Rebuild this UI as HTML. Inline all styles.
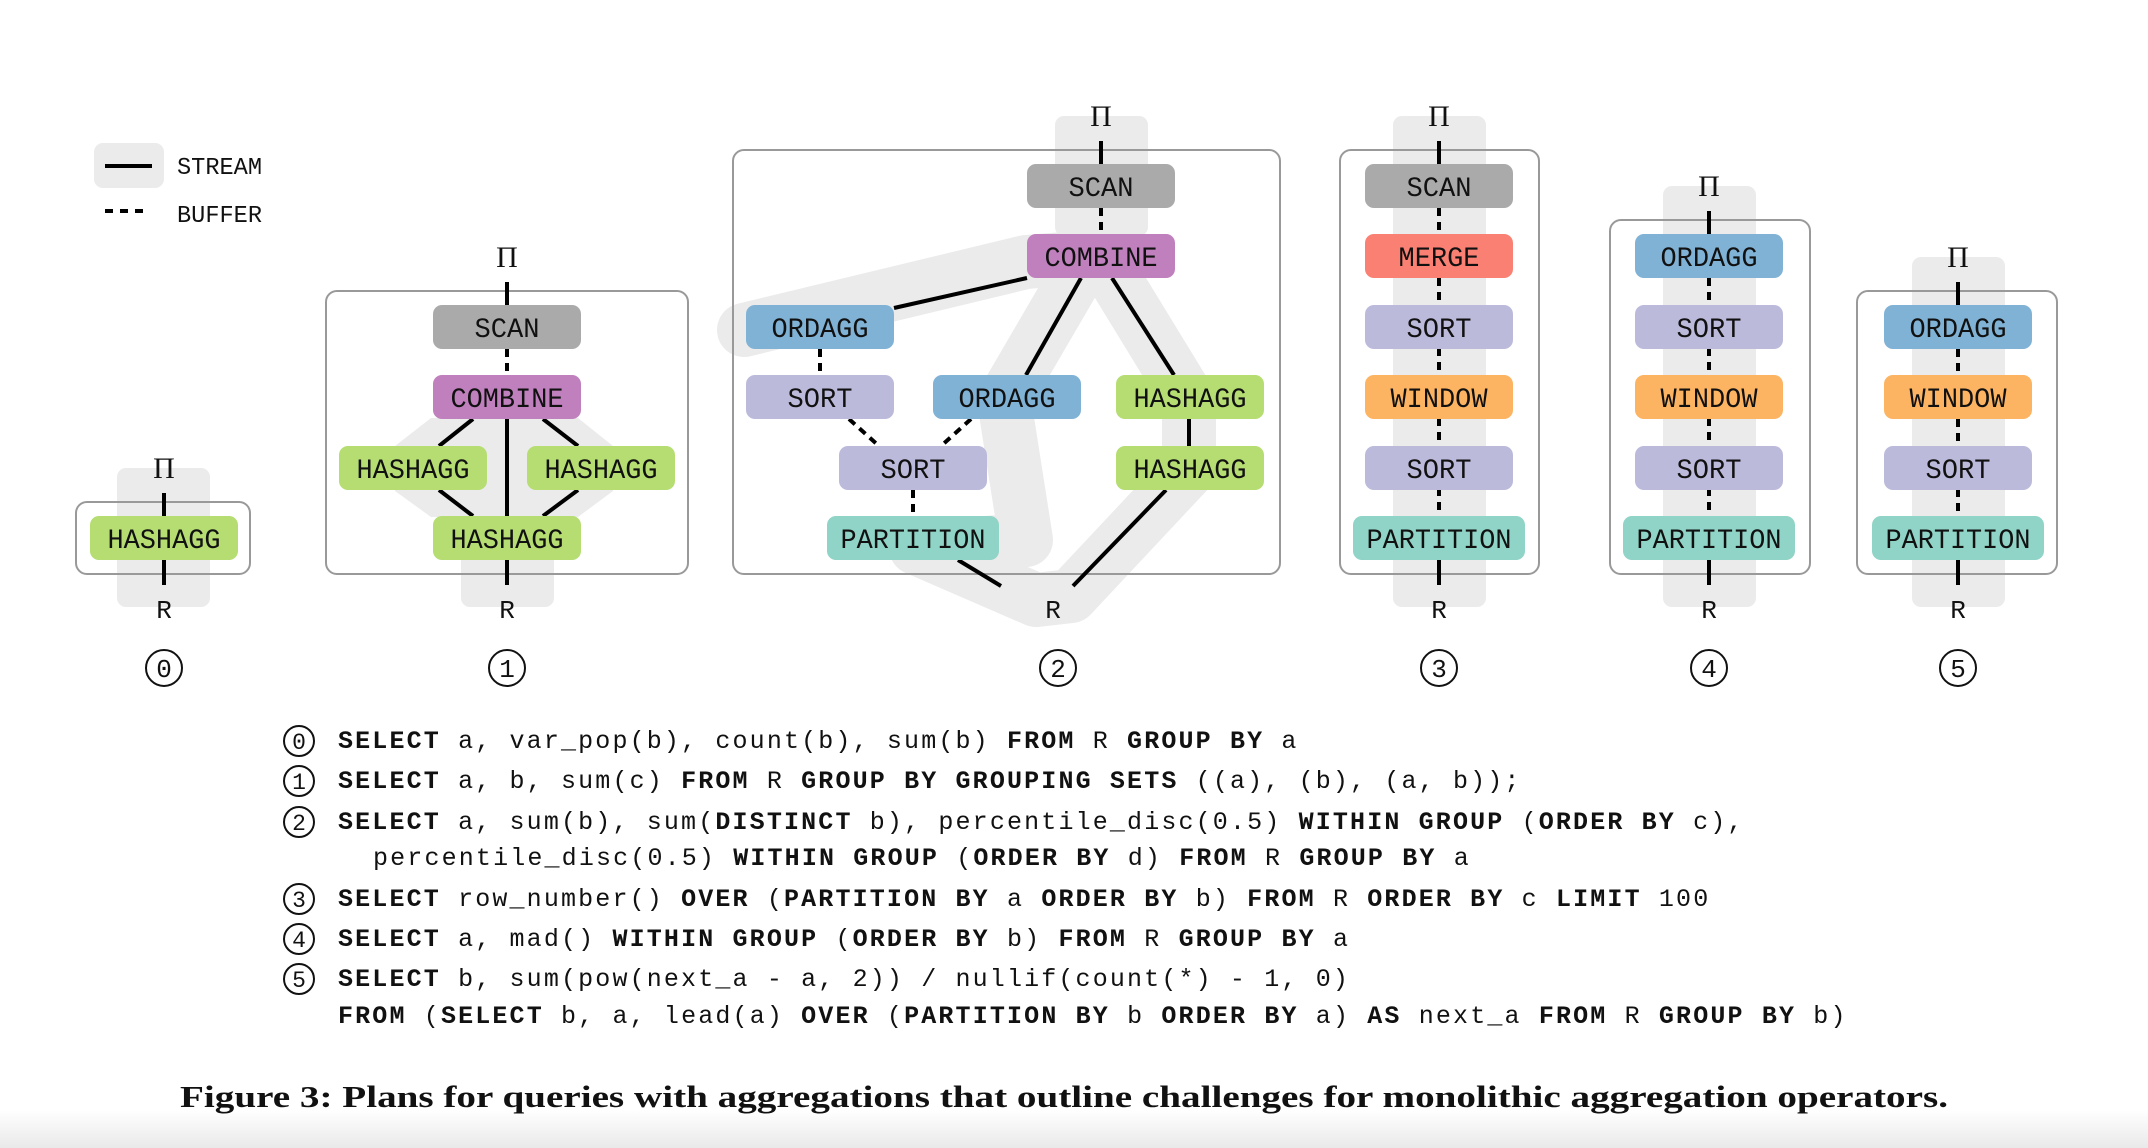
<!DOCTYPE html>
<html><head><meta charset="utf-8"><style>
html,body{margin:0;padding:0;background:#fff;}
body{width:2148px;height:1148px;overflow:hidden;position:relative;}
.sql{position:absolute;left:338px;font-family:"Liberation Mono",monospace;font-size:25px;letter-spacing:2.15px;white-space:pre;color:#111;line-height:30px;}
.sql b{font-weight:bold;}
svg .bx{fill:none;stroke:#999;stroke-width:2}
svg .e{stroke:#000;stroke-width:4;fill:none}
svg .d{stroke:#000;stroke-width:4;fill:none;stroke-dasharray:8,6}
svg .bg{fill:#ebebeb}
svg .t{font-family:"Liberation Mono",monospace;font-size:28px;text-anchor:middle;fill:#111}
svg .r{font-family:"Liberation Mono",monospace;font-size:26px;text-anchor:middle;fill:#111}
svg .pi{font-family:"Liberation Serif",serif;font-size:30px;text-anchor:middle;fill:#111}
svg .c{fill:none;stroke:#111;stroke-width:2}
</style></head><body>
<svg width="2148" height="1148" viewBox="0 0 2148 1148" xmlns="http://www.w3.org/2000/svg" style="position:absolute;left:0;top:0">
<defs>
<linearGradient id="sh" x1="0" y1="0" x2="0" y2="1"><stop offset="0" stop-color="#fff"/><stop offset="1" stop-color="#e9e9e9"/></linearGradient>
</defs>
<rect x="0" y="1110" width="2148" height="38" fill="url(#sh)"/>
<!-- legend -->
<rect class="bg" x="94" y="143" width="70" height="45" rx="9"/>
<line class="e" x1="105" y1="166" x2="152" y2="166"/>
<line class="d" x1="105" y1="211" x2="147" y2="211" style="stroke-dasharray:8,7"/>
<text class="t" x="177" y="174" style="text-anchor:start;font-size:24px" textLength="85" lengthAdjust="spacingAndGlyphs">STREAM</text>
<text class="t" x="177" y="222" style="text-anchor:start;font-size:24px" textLength="85" lengthAdjust="spacingAndGlyphs">BUFFER</text>

<!-- d0 -->
<g>
<rect class="bg" x="117" y="468" width="93" height="139" rx="9"/>
<rect class="bx" x="76" y="502" width="174" height="72" rx="11"/>
<line class="e" x1="164" y1="493" x2="164" y2="516"/><line class="e" x1="164" y1="560" x2="164" y2="585"/>
<rect x="90" y="516" width="148" height="44" rx="9" fill="#b5dd72"/><text class="t" x="164" y="548" textLength="113" lengthAdjust="spacingAndGlyphs">HASHAGG</text>
<text class="pi" x="164" y="478">Π</text><text class="r" x="164" y="618">R</text>
<circle class="c" cx="164" cy="668" r="18"/><text class="r" x="164" y="677">0</text>
</g>

<!-- d1 -->
<g transform="translate(-2,0)">
<polygon class="bg" points="433,418 580,418 615,446 615,491 580,517 433,517 397,491 397,446"/>
<rect class="bg" x="463" y="500" width="93" height="107" rx="9"/>
<rect class="bx" x="328" y="291" width="362" height="283" rx="11"/>
<line class="e" x1="509" y1="282" x2="509" y2="305"/>
<line class="d" x1="509" y1="349" x2="509" y2="375"/>
<line class="e" x1="475" y1="419" x2="441" y2="446"/><line class="e" x1="545" y1="419" x2="580" y2="446"/>
<line class="e" x1="509" y1="419" x2="509" y2="516"/>
<line class="e" x1="441" y1="490" x2="475" y2="516"/><line class="e" x1="580" y1="490" x2="545" y2="516"/>
<line class="e" x1="509" y1="560" x2="509" y2="585"/>
<rect x="435" y="305" width="148" height="44" rx="9" fill="#aaaaaa"/><text class="t" x="509" y="337" textLength="65" lengthAdjust="spacingAndGlyphs">SCAN</text>
<rect x="435" y="375" width="148" height="44" rx="9" fill="#bf80bd"/><text class="t" x="509" y="407" textLength="113" lengthAdjust="spacingAndGlyphs">COMBINE</text>
<rect x="341" y="446" width="148" height="44" rx="9" fill="#b5dd72"/><text class="t" x="415" y="478" textLength="113" lengthAdjust="spacingAndGlyphs">HASHAGG</text>
<rect x="529" y="446" width="148" height="44" rx="9" fill="#b5dd72"/><text class="t" x="603" y="478" textLength="113" lengthAdjust="spacingAndGlyphs">HASHAGG</text>
<rect x="435" y="516" width="148" height="44" rx="9" fill="#b5dd72"/><text class="t" x="509" y="548" textLength="113" lengthAdjust="spacingAndGlyphs">HASHAGG</text>
<text class="pi" x="509" y="267">Π</text><text class="r" x="509" y="618">R</text>
<circle class="c" cx="509" cy="668" r="18"/><text class="r" x="509" y="677">1</text>
</g>

<!-- d2 -->
<g transform="translate(-4,0)">
<rect class="bg" x="1059" y="116" width="93" height="120" rx="9"/>
<g fill="none" stroke="#ebebeb" stroke-width="54" stroke-linejoin="round" stroke-linecap="round">
<path d="M748,330 L1030,262 L1105,256"/>
<path d="M1105,256 L1193,400 L1193,470 L1075,596 L1040,600 L920,548 L1030,540 L1008,400 L1085,268 Z"/>
</g>
<rect class="bx" x="737" y="150" width="547" height="424" rx="11"/>
<line class="e" x1="1105" y1="141" x2="1105" y2="164"/>
<line class="d" x1="1105" y1="208" x2="1105" y2="234"/>
<line class="e" x1="1031" y1="278" x2="898" y2="308"/>
<line class="e" x1="1085" y1="278" x2="1030" y2="375"/>
<line class="e" x1="1116" y1="278" x2="1178" y2="375"/>
<line class="e" x1="1193" y1="419" x2="1193" y2="446"/>
<line class="d" x1="824" y1="349" x2="824" y2="375"/>
<line class="d" x1="853" y1="419" x2="883" y2="446"/>
<line class="d" x1="975" y1="419" x2="945" y2="446"/>
<line class="d" x1="917" y1="490" x2="917" y2="516"/>
<line class="e" x1="962" y1="560" x2="1005" y2="586"/>
<line class="e" x1="1170" y1="490" x2="1077" y2="586"/>
<rect x="1031" y="164" width="148" height="44" rx="9" fill="#aaaaaa"/><text class="t" x="1105" y="196" textLength="65" lengthAdjust="spacingAndGlyphs">SCAN</text>
<rect x="1031" y="234" width="148" height="44" rx="9" fill="#bf80bd"/><text class="t" x="1105" y="266" textLength="113" lengthAdjust="spacingAndGlyphs">COMBINE</text>
<rect x="750" y="305" width="148" height="44" rx="9" fill="#80b2d6"/><text class="t" x="824" y="337" textLength="97" lengthAdjust="spacingAndGlyphs">ORDAGG</text>
<rect x="750" y="375" width="148" height="44" rx="9" fill="#bcbadb"/><text class="t" x="824" y="407" textLength="65" lengthAdjust="spacingAndGlyphs">SORT</text>
<rect x="937" y="375" width="148" height="44" rx="9" fill="#80b2d6"/><text class="t" x="1011" y="407" textLength="97" lengthAdjust="spacingAndGlyphs">ORDAGG</text>
<rect x="1120" y="375" width="148" height="44" rx="9" fill="#b5dd72"/><text class="t" x="1194" y="407" textLength="113" lengthAdjust="spacingAndGlyphs">HASHAGG</text>
<rect x="1120" y="446" width="148" height="44" rx="9" fill="#b5dd72"/><text class="t" x="1194" y="478" textLength="113" lengthAdjust="spacingAndGlyphs">HASHAGG</text>
<rect x="843" y="446" width="148" height="44" rx="9" fill="#bcbadb"/><text class="t" x="917" y="478" textLength="65" lengthAdjust="spacingAndGlyphs">SORT</text>
<rect x="831" y="516" width="172" height="44" rx="9" fill="#8fd4c6"/><text class="t" x="917" y="548" textLength="145" lengthAdjust="spacingAndGlyphs">PARTITION</text>
<text class="pi" x="1105" y="126">Π</text><text class="r" x="1057" y="618">R</text>
<circle class="c" cx="1062" cy="668" r="18"/><text class="r" x="1062" y="677">2</text>
</g>

<!-- d3 -->
<g transform="translate(-7,0)">
<rect class="bg" x="1400" y="116" width="93" height="491" rx="9"/>
<rect class="bx" x="1347" y="150" width="199" height="424" rx="11"/>
<line class="e" x1="1446" y1="141" x2="1446" y2="164"/>
<line class="d" x1="1446" y1="208" x2="1446" y2="516"/>
<line class="e" x1="1446" y1="560" x2="1446" y2="585"/>
<rect x="1372" y="164" width="148" height="44" rx="9" fill="#aaaaaa"/><text class="t" x="1446" y="196" textLength="65" lengthAdjust="spacingAndGlyphs">SCAN</text>
<rect x="1372" y="234" width="148" height="44" rx="9" fill="#f98072"/><text class="t" x="1446" y="266" textLength="81" lengthAdjust="spacingAndGlyphs">MERGE</text>
<rect x="1372" y="305" width="148" height="44" rx="9" fill="#bcbadb"/><text class="t" x="1446" y="337" textLength="65" lengthAdjust="spacingAndGlyphs">SORT</text>
<rect x="1372" y="375" width="148" height="44" rx="9" fill="#fcb462"/><text class="t" x="1446" y="407" textLength="97" lengthAdjust="spacingAndGlyphs">WINDOW</text>
<rect x="1372" y="446" width="148" height="44" rx="9" fill="#bcbadb"/><text class="t" x="1446" y="478" textLength="65" lengthAdjust="spacingAndGlyphs">SORT</text>
<rect x="1360" y="516" width="172" height="44" rx="9" fill="#8fd4c6"/><text class="t" x="1446" y="548" textLength="145" lengthAdjust="spacingAndGlyphs">PARTITION</text>
<text class="pi" x="1446" y="126">Π</text><text class="r" x="1446" y="618">R</text>
<circle class="c" cx="1446" cy="668" r="18"/><text class="r" x="1446" y="677">3</text>
</g>

<!-- d4 -->
<g transform="translate(-8,0)">
<rect class="bg" x="1671" y="186" width="93" height="421" rx="9"/>
<rect class="bx" x="1618" y="220" width="200" height="354" rx="11"/>
<line class="e" x1="1717" y1="211" x2="1717" y2="234"/>
<line class="d" x1="1717" y1="278" x2="1717" y2="516"/>
<line class="e" x1="1717" y1="560" x2="1717" y2="585"/>
<rect x="1643" y="234" width="148" height="44" rx="9" fill="#80b2d6"/><text class="t" x="1717" y="266" textLength="97" lengthAdjust="spacingAndGlyphs">ORDAGG</text>
<rect x="1643" y="305" width="148" height="44" rx="9" fill="#bcbadb"/><text class="t" x="1717" y="337" textLength="65" lengthAdjust="spacingAndGlyphs">SORT</text>
<rect x="1643" y="375" width="148" height="44" rx="9" fill="#fcb462"/><text class="t" x="1717" y="407" textLength="97" lengthAdjust="spacingAndGlyphs">WINDOW</text>
<rect x="1643" y="446" width="148" height="44" rx="9" fill="#bcbadb"/><text class="t" x="1717" y="478" textLength="65" lengthAdjust="spacingAndGlyphs">SORT</text>
<rect x="1631" y="516" width="172" height="44" rx="9" fill="#8fd4c6"/><text class="t" x="1717" y="548" textLength="145" lengthAdjust="spacingAndGlyphs">PARTITION</text>
<text class="pi" x="1717" y="196">Π</text><text class="r" x="1717" y="618">R</text>
<circle class="c" cx="1717" cy="668" r="18"/><text class="r" x="1717" y="677">4</text>
</g>

<!-- d5 -->
<g transform="translate(-10,0)">
<rect class="bg" x="1922" y="257" width="93" height="350" rx="9"/>
<rect class="bx" x="1867" y="291" width="200" height="283" rx="11"/>
<line class="e" x1="1968" y1="282" x2="1968" y2="305"/>
<line class="d" x1="1968" y1="349" x2="1968" y2="516"/>
<line class="e" x1="1968" y1="560" x2="1968" y2="585"/>
<rect x="1894" y="305" width="148" height="44" rx="9" fill="#80b2d6"/><text class="t" x="1968" y="337" textLength="97" lengthAdjust="spacingAndGlyphs">ORDAGG</text>
<rect x="1894" y="375" width="148" height="44" rx="9" fill="#fcb462"/><text class="t" x="1968" y="407" textLength="97" lengthAdjust="spacingAndGlyphs">WINDOW</text>
<rect x="1894" y="446" width="148" height="44" rx="9" fill="#bcbadb"/><text class="t" x="1968" y="478" textLength="65" lengthAdjust="spacingAndGlyphs">SORT</text>
<rect x="1882" y="516" width="172" height="44" rx="9" fill="#8fd4c6"/><text class="t" x="1968" y="548" textLength="145" lengthAdjust="spacingAndGlyphs">PARTITION</text>
<text class="pi" x="1968" y="267">Π</text><text class="r" x="1968" y="618">R</text>
<circle class="c" cx="1968" cy="668" r="18"/><text class="r" x="1968" y="677">5</text>
</g>

<!-- SQL circles -->
<g>
<circle class="c" cx="299" cy="741" r="15"/><circle class="c" cx="299" cy="781" r="15"/><circle class="c" cx="299" cy="822" r="15"/>
<circle class="c" cx="299" cy="899" r="15"/><circle class="c" cx="299" cy="939" r="15"/><circle class="c" cx="299" cy="979" r="15"/>
</g>
<g class="r" style="font-size:23px">
<text class="r" style="font-size:23px" x="299" y="749">0</text><text class="r" style="font-size:23px" x="299" y="789">1</text><text class="r" style="font-size:23px" x="299" y="830">2</text>
<text class="r" style="font-size:23px" x="299" y="907">3</text><text class="r" style="font-size:23px" x="299" y="947">4</text><text class="r" style="font-size:23px" x="299" y="987">5</text>
</g>
<text x="180" y="1107" font-family="Liberation Serif, serif" font-weight="bold" font-size="31" textLength="1768" lengthAdjust="spacingAndGlyphs" fill="#111">Figure 3: Plans for queries with aggregations that outline challenges for monolithic aggregation operators.</text>
</svg>
<div class="sql" style="top:727px"><b>SELECT</b> a, var_pop(b), count(b), sum(b) <b>FROM</b> R <b>GROUP BY</b> a</div>
<div class="sql" style="top:767px"><b>SELECT</b> a, b, sum(c) <b>FROM</b> R <b>GROUP BY GROUPING SETS</b> ((a), (b), (a, b));</div>
<div class="sql" style="top:808px"><b>SELECT</b> a, sum(b), sum(<b>DISTINCT</b> b), percentile_disc(0.5) <b>WITHIN GROUP</b> (<b>ORDER BY</b> c),</div>
<div class="sql" style="top:844px;left:373px">percentile_disc(0.5) <b>WITHIN GROUP</b> (<b>ORDER BY</b> d) <b>FROM</b> R <b>GROUP BY</b> a</div>
<div class="sql" style="top:885px"><b>SELECT</b> row_number() <b>OVER</b> (<b>PARTITION BY</b> a <b>ORDER BY</b> b) <b>FROM</b> R <b>ORDER BY</b> c <b>LIMIT</b> 100</div>
<div class="sql" style="top:925px"><b>SELECT</b> a, mad() <b>WITHIN GROUP</b> (<b>ORDER BY</b> b) <b>FROM</b> R <b>GROUP BY</b> a</div>
<div class="sql" style="top:965px"><b>SELECT</b> b, sum(pow(next_a - a, 2)) / nullif(count(*) - 1, 0)</div>
<div class="sql" style="top:1002px"><b>FROM</b> (<b>SELECT</b> b, a, lead(a) <b>OVER</b> (<b>PARTITION BY</b> b <b>ORDER BY</b> a) <b>AS</b> next_a <b>FROM</b> R <b>GROUP BY</b> b)</div>
</body></html>
